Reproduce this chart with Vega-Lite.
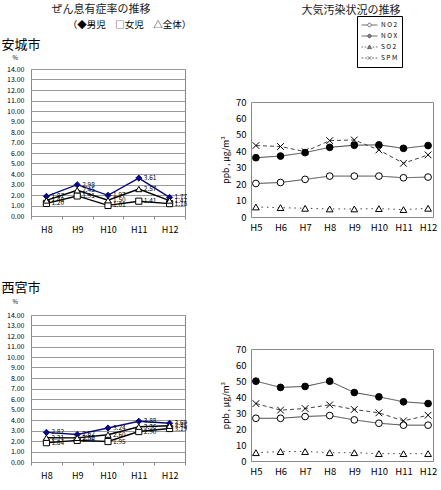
{
  "$schema": "https://vega.github.io/schema/vega-lite/v6.json",
  "padding": {"left": 0, "top": 3, "right": 0, "bottom": 0},
  "background": "white",
  "config": {
    "font": "Noto Sans CJK JP",
    "view": {"stroke": "#8a8a8a"},
    "title": {"fontWeight": "normal", "color": "#222"},
    "axis": {"labelColor": "#000", "titleColor": "#000", "titleFontWeight": "normal"}
  },
  "datasets": {
    "asthma": [
      {"city": "安城市", "year": "H8", "group": "男児", "value": 1.87},
      {"city": "安城市", "year": "H9", "group": "男児", "value": 2.98},
      {"city": "安城市", "year": "H10", "group": "男児", "value": 1.97},
      {"city": "安城市", "year": "H11", "group": "男児", "value": 3.61},
      {"city": "安城市", "year": "H12", "group": "男児", "value": 1.77},
      {"city": "安城市", "year": "H8", "group": "女児", "value": 1.20},
      {"city": "安城市", "year": "H9", "group": "女児", "value": 1.91},
      {"city": "安城市", "year": "H10", "group": "女児", "value": 1.01},
      {"city": "安城市", "year": "H11", "group": "女児", "value": 1.41},
      {"city": "安城市", "year": "H12", "group": "女児", "value": 1.18},
      {"city": "安城市", "year": "H8", "group": "全体", "value": 1.48},
      {"city": "安城市", "year": "H9", "group": "全体", "value": 2.45},
      {"city": "安城市", "year": "H10", "group": "全体", "value": 1.50},
      {"city": "安城市", "year": "H11", "group": "全体", "value": 2.57},
      {"city": "安城市", "year": "H12", "group": "全体", "value": 1.47},
      {"city": "西宮市", "year": "H8", "group": "男児", "value": 2.82},
      {"city": "西宮市", "year": "H9", "group": "男児", "value": 2.62},
      {"city": "西宮市", "year": "H10", "group": "男児", "value": 3.24},
      {"city": "西宮市", "year": "H11", "group": "男児", "value": 3.88},
      {"city": "西宮市", "year": "H12", "group": "男児", "value": 3.69},
      {"city": "西宮市", "year": "H8", "group": "女児", "value": 1.84},
      {"city": "西宮市", "year": "H9", "group": "女児", "value": 2.06},
      {"city": "西宮市", "year": "H10", "group": "女児", "value": 1.95},
      {"city": "西宮市", "year": "H11", "group": "女児", "value": 2.90},
      {"city": "西宮市", "year": "H12", "group": "女児", "value": 3.19},
      {"city": "西宮市", "year": "H8", "group": "全体", "value": 2.31},
      {"city": "西宮市", "year": "H9", "group": "全体", "value": 2.30},
      {"city": "西宮市", "year": "H10", "group": "全体", "value": 2.60},
      {"city": "西宮市", "year": "H11", "group": "全体", "value": 3.36},
      {"city": "西宮市", "year": "H12", "group": "全体", "value": 3.45}
    ],
    "air": [
      {"city": "安城市", "year": "H5", "pollutant": "NO2", "value": 20.4},
      {"city": "安城市", "year": "H6", "pollutant": "NO2", "value": 21.0},
      {"city": "安城市", "year": "H7", "pollutant": "NO2", "value": 22.9},
      {"city": "安城市", "year": "H8", "pollutant": "NO2", "value": 24.9},
      {"city": "安城市", "year": "H9", "pollutant": "NO2", "value": 24.9},
      {"city": "安城市", "year": "H10", "pollutant": "NO2", "value": 24.9},
      {"city": "安城市", "year": "H11", "pollutant": "NO2", "value": 23.9},
      {"city": "安城市", "year": "H12", "pollutant": "NO2", "value": 24.3},
      {"city": "安城市", "year": "H5", "pollutant": "NOX", "value": 36.1},
      {"city": "安城市", "year": "H6", "pollutant": "NOX", "value": 37.1},
      {"city": "安城市", "year": "H7", "pollutant": "NOX", "value": 39.2},
      {"city": "安城市", "year": "H8", "pollutant": "NOX", "value": 42.4},
      {"city": "安城市", "year": "H9", "pollutant": "NOX", "value": 43.7},
      {"city": "安城市", "year": "H10", "pollutant": "NOX", "value": 43.9},
      {"city": "安城市", "year": "H11", "pollutant": "NOX", "value": 41.8},
      {"city": "安城市", "year": "H12", "pollutant": "NOX", "value": 43.5},
      {"city": "安城市", "year": "H5", "pollutant": "SO2", "value": 6.1},
      {"city": "安城市", "year": "H6", "pollutant": "SO2", "value": 5.7},
      {"city": "安城市", "year": "H7", "pollutant": "SO2", "value": 5.3},
      {"city": "安城市", "year": "H8", "pollutant": "SO2", "value": 4.9},
      {"city": "安城市", "year": "H9", "pollutant": "SO2", "value": 4.9},
      {"city": "安城市", "year": "H10", "pollutant": "SO2", "value": 5.1},
      {"city": "安城市", "year": "H11", "pollutant": "SO2", "value": 4.5},
      {"city": "安城市", "year": "H12", "pollutant": "SO2", "value": 5.3},
      {"city": "安城市", "year": "H5", "pollutant": "SPM", "value": 43.5},
      {"city": "安城市", "year": "H6", "pollutant": "SPM", "value": 42.9},
      {"city": "安城市", "year": "H7", "pollutant": "SPM", "value": 39.8},
      {"city": "安城市", "year": "H8", "pollutant": "SPM", "value": 46.5},
      {"city": "安城市", "year": "H9", "pollutant": "SPM", "value": 46.9},
      {"city": "安城市", "year": "H10", "pollutant": "SPM", "value": 40.8},
      {"city": "安城市", "year": "H11", "pollutant": "SPM", "value": 32.7},
      {"city": "安城市", "year": "H12", "pollutant": "SPM", "value": 37.8},
      {"city": "西宮市", "year": "H5", "pollutant": "NO2", "value": 26.7},
      {"city": "西宮市", "year": "H6", "pollutant": "NO2", "value": 26.7},
      {"city": "西宮市", "year": "H7", "pollutant": "NO2", "value": 27.8},
      {"city": "西宮市", "year": "H8", "pollutant": "NO2", "value": 28.4},
      {"city": "西宮市", "year": "H9", "pollutant": "NO2", "value": 25.7},
      {"city": "西宮市", "year": "H10", "pollutant": "NO2", "value": 23.6},
      {"city": "西宮市", "year": "H11", "pollutant": "NO2", "value": 22.4},
      {"city": "西宮市", "year": "H12", "pollutant": "NO2", "value": 22.4},
      {"city": "西宮市", "year": "H5", "pollutant": "NOX", "value": 49.9},
      {"city": "西宮市", "year": "H6", "pollutant": "NOX", "value": 46.0},
      {"city": "西宮市", "year": "H7", "pollutant": "NOX", "value": 46.6},
      {"city": "西宮市", "year": "H8", "pollutant": "NOX", "value": 49.9},
      {"city": "西宮市", "year": "H9", "pollutant": "NOX", "value": 42.8},
      {"city": "西宮市", "year": "H10", "pollutant": "NOX", "value": 40.1},
      {"city": "西宮市", "year": "H11", "pollutant": "NOX", "value": 37.0},
      {"city": "西宮市", "year": "H12", "pollutant": "NOX", "value": 35.9},
      {"city": "西宮市", "year": "H5", "pollutant": "SO2", "value": 5.2},
      {"city": "西宮市", "year": "H6", "pollutant": "SO2", "value": 5.9},
      {"city": "西宮市", "year": "H7", "pollutant": "SO2", "value": 5.9},
      {"city": "西宮市", "year": "H8", "pollutant": "SO2", "value": 5.2},
      {"city": "西宮市", "year": "H9", "pollutant": "SO2", "value": 5.2},
      {"city": "西宮市", "year": "H10", "pollutant": "SO2", "value": 4.6},
      {"city": "西宮市", "year": "H11", "pollutant": "SO2", "value": 4.6},
      {"city": "西宮市", "year": "H12", "pollutant": "SO2", "value": 4.6},
      {"city": "西宮市", "year": "H5", "pollutant": "SPM", "value": 35.9},
      {"city": "西宮市", "year": "H6", "pollutant": "SPM", "value": 31.8},
      {"city": "西宮市", "year": "H7", "pollutant": "SPM", "value": 32.8},
      {"city": "西宮市", "year": "H8", "pollutant": "SPM", "value": 35.1},
      {"city": "西宮市", "year": "H9", "pollutant": "SPM", "value": 32.2},
      {"city": "西宮市", "year": "H10", "pollutant": "SPM", "value": 30.1},
      {"city": "西宮市", "year": "H11", "pollutant": "SPM", "value": 25.1},
      {"city": "西宮市", "year": "H12", "pollutant": "SPM", "value": 28.6}
    ]
  },
  "spacing": 28,
  "resolve": {"scale": {"shape": "independent", "fill": "independent", "stroke": "independent", "strokeDash": "independent"}},
  "hconcat": [
    {
      "spacing": 45,
      "resolve": {"scale": {"shape": "independent", "fill": "independent", "stroke": "independent"}},
      "vconcat": [
        {
          "width": 154,
          "height": 147,
          "title": {"text": "ぜん息有症率の推移", "anchor": "middle", "frame": "group", "fontSize": 11, "dx": -7, "offset": 4},
          "data": {"name": "asthma"},
          "transform": [{"filter": "datum.city === '安城市'"}],
          "layer": [
            {
              "mark": {"type": "line", "strokeWidth": 1.4},
              "encoding": {
                "x": {
                  "field": "year", "type": "ordinal", "sort": ["H8", "H9", "H10", "H11", "H12"],
                  "scale": {"type": "band", "paddingInner": 0, "paddingOuter": 0},
                  "axis": {"title": null, "labelAngle": 0, "labelFontSize": 9, "labelPadding": 6, "domain": false, "tickBand": "extent", "tickSize": 3, "tickColor": "#888"}
                },
                "y": {
                  "field": "value", "type": "quantitative",
                  "scale": {"domain": [0, 14], "nice": false},
                  "axis": {
                    "values": [0, 1, 2, 3, 4, 5, 6, 7, 8, 9, 10, 11, 12, 13, 14],
                    "format": ".2f", "labelFontSize": 7, "labelPadding": 7, "ticks": false, "domain": false,
                    "gridColor": "#9a9a9a", "title": "安城市", "titleAngle": 0, "titleAlign": "left",
                    "titleBaseline": "middle", "titleX": -30, "titleY": -25, "titleFontSize": 13
                  }
                },
                "stroke": {"field": "group", "scale": {"domain": ["全体", "女児", "男児"], "range": ["#000000", "#000000", "#0a0a80"]}, "legend": null}
              }
            },
            {
              "mark": {"type": "point", "filled": true, "strokeWidth": 1, "size": 38, "opacity": 1},
              "encoding": {
                "x": {
                  "field": "year", "type": "ordinal", "sort": ["H8", "H9", "H10", "H11", "H12"],
                  "axis": {
                    "orient": "top", "title": "（◆男児　□女児　△全体）", "labels": false, "ticks": false, "domain": false, "grid": false,
                    "titleX": 98, "titleY": -45, "titleAlign": "center", "titleBaseline": "middle", "titleFontSize": 9.5, "titleAngle": 0
                  }
                },
                "y": {
                  "field": "value", "type": "quantitative",
                  "axis": {
                    "orient": "left", "title": "%", "labels": false, "ticks": false, "domain": false, "grid": false,
                    "titleAngle": 0, "titleAlign": "left", "titleBaseline": "middle", "titleX": -19, "titleY": -12, "titleFontSize": 6
                  }
                },
                "shape": {"field": "group", "scale": {"domain": ["全体", "女児", "男児"], "range": ["triangle-up", "square", "diamond"]}, "legend": null},
                "fill": {"field": "group", "scale": {"domain": ["全体", "女児", "男児"], "range": ["#ffffff", "#ffffff", "#0a0a80"]}, "legend": null},
                "stroke": {"field": "group", "legend": null}
              }
            },
            {
              "mark": {"type": "text", "align": "left", "baseline": "middle", "dx": 5, "fontSize": 6.5, "color": "#000"},
              "encoding": {
                "x": {"field": "year", "type": "ordinal", "sort": ["H8", "H9", "H10", "H11", "H12"], "axis": null},
                "y": {"field": "value", "type": "quantitative", "axis": null},
                "text": {"field": "value", "type": "quantitative", "format": ".2f"}
              }
            }
          ],
          "resolve": {"axis": {"x": "independent", "y": "independent"}}
        },
        {
          "width": 154,
          "height": 147,
          "data": {"name": "asthma"},
          "transform": [{"filter": "datum.city === '西宮市'"}],
          "layer": [
            {
              "mark": {"type": "line", "strokeWidth": 1.4},
              "encoding": {
                "x": {
                  "field": "year", "type": "ordinal", "sort": ["H8", "H9", "H10", "H11", "H12"],
                  "scale": {"type": "band", "paddingInner": 0, "paddingOuter": 0},
                  "axis": {"title": null, "labelAngle": 0, "labelFontSize": 9, "labelPadding": 6, "domain": false, "tickBand": "extent", "tickSize": 3, "tickColor": "#888"}
                },
                "y": {
                  "field": "value", "type": "quantitative",
                  "scale": {"domain": [0, 14], "nice": false},
                  "axis": {
                    "values": [0, 1, 2, 3, 4, 5, 6, 7, 8, 9, 10, 11, 12, 13, 14],
                    "format": ".2f", "labelFontSize": 7, "labelPadding": 7, "ticks": false, "domain": false,
                    "gridColor": "#9a9a9a", "title": "西宮市", "titleAngle": 0, "titleAlign": "left",
                    "titleBaseline": "middle", "titleX": -30, "titleY": -28, "titleFontSize": 13
                  }
                },
                "stroke": {"field": "group", "scale": {"domain": ["全体", "女児", "男児"], "range": ["#000000", "#000000", "#0a0a80"]}, "legend": null}
              }
            },
            {
              "mark": {"type": "point", "filled": true, "strokeWidth": 1, "size": 38, "opacity": 1},
              "encoding": {
                "x": {"field": "year", "type": "ordinal", "sort": ["H8", "H9", "H10", "H11", "H12"], "axis": null},
                "y": {
                  "field": "value", "type": "quantitative",
                  "axis": {
                    "orient": "left", "title": "%", "labels": false, "ticks": false, "domain": false, "grid": false,
                    "titleAngle": 0, "titleAlign": "left", "titleBaseline": "middle", "titleX": -19, "titleY": -14, "titleFontSize": 6
                  }
                },
                "shape": {"field": "group", "scale": {"domain": ["全体", "女児", "男児"], "range": ["triangle-up", "square", "diamond"]}, "legend": null},
                "fill": {"field": "group", "scale": {"domain": ["全体", "女児", "男児"], "range": ["#ffffff", "#ffffff", "#0a0a80"]}, "legend": null},
                "stroke": {"field": "group", "legend": null}
              }
            },
            {
              "mark": {"type": "text", "align": "left", "baseline": "middle", "dx": 5, "fontSize": 6.5, "color": "#000"},
              "encoding": {
                "x": {"field": "year", "type": "ordinal", "sort": ["H8", "H9", "H10", "H11", "H12"], "axis": null},
                "y": {"field": "value", "type": "quantitative", "axis": null},
                "text": {"field": "value", "type": "quantitative", "format": ".2f"}
              }
            }
          ],
          "resolve": {"axis": {"x": "independent", "y": "independent"}}
        }
      ]
    },
    {
      "spacing": 26,
      "resolve": {"scale": {"shape": "independent", "fill": "independent", "strokeDash": "independent"}},
      "vconcat": [
        {
          "width": 182,
          "height": 1,
          "view": {"stroke": null},
          "title": {"text": "大気汚染状況の推移", "anchor": "middle", "fontSize": 11, "dx": 9, "offset": 0},
          "data": {"name": "air"},
          "transform": [{"filter": "datum.value < 0"}],
          "mark": {"type": "point", "filled": true, "stroke": "#000", "strokeWidth": 0.8},
          "encoding": {
            "shape": {
              "field": "pollutant",
              "scale": {
                "domain": ["NO2", "NOX", "SO2", "SPM"],
                "range": [
                  "M-1,0H-0.22M0.22,0H1M-0.22,0A0.22,0.22,0,1,1,0.22,0A0.22,0.22,0,1,1,-0.22,0",
                  "M-1,0H-0.22M0.22,0H1M-0.22,0A0.22,0.22,0,1,1,0.22,0A0.22,0.22,0,1,1,-0.22,0",
                  "M-1,0H-0.8M-0.6,0H-0.4M0.4,0H0.6M0.8,0H1M0,-0.25L0.25,0.2L-0.25,0.2Z",
                  "M-1,0H-0.75M-0.55,0H-0.3M0.3,0H0.55M0.75,0H1M-0.22,-0.22L0.22,0.22M-0.22,0.22L0.22,-0.22"
                ]
              },
              "legend": {
                "title": null, "orient": "none", "legendX": 106, "legendY": -53, "direction": "vertical",
                "strokeColor": "#000", "fillColor": "#fff", "padding": 4, "symbolSize": 256, "clipHeight": 10,
                "labelFontSize": 6.5, "labelOffset": 3, "rowPadding": 1, "symbolStrokeWidth": 0.8,
                "labelExpr": "join(split(datum.label, ''), ' ')"
              }
            },
            "fill": {
              "field": "pollutant",
              "scale": {"domain": ["NO2", "NOX", "SO2", "SPM"], "range": ["#ffffff", "#000000", "#000000", "#ffffff"]},
              "legend": {"title": null, "orient": "none", "legendX": 106, "legendY": -53}
            }
          }
        },
        {
          "spacing": 111,
          "resolve": {"scale": {"shape": "independent", "fill": "independent", "strokeDash": "independent"}},
          "vconcat": [
            {
              "width": 182,
              "height": 115,
              "data": {"name": "air"},
              "transform": [{"filter": "datum.city === '安城市'"}],
              "encoding": {
                "x": {
                  "field": "year", "type": "ordinal", "sort": ["H5", "H6", "H7", "H8", "H9", "H10", "H11", "H12"],
                  "scale": {"type": "point", "padding": 0.2},
                  "axis": {"title": null, "labelAngle": 0, "labelFontSize": 9.5, "labelPadding": 5, "domain": false, "ticks": false, "grid": false}
                },
                "y": {
                  "field": "value", "type": "quantitative",
                  "scale": {"domain": [0, 70], "nice": false},
                  "axis": {"values": [0, 10, 20, 30, 40, 50, 60, 70], "labelFontSize": 9.5, "labelPadding": 5, "ticks": false, "domain": false, "grid": false, "title": "ppb , μg/m³", "titleFontSize": 8.5, "titlePadding": 5}
                }
              },
              "layer": [
                {
                  "mark": {"type": "line", "strokeWidth": 1, "color": "#444"},
                  "encoding": {
                    "detail": {"field": "pollutant"},
                    "strokeDash": {"field": "pollutant", "scale": {"domain": ["NO2", "NOX", "SO2", "SPM"], "range": [[1, 0], [1, 0], [1.5, 4], [4, 3]]}, "legend": null}
                  }
                },
                {
                  "mark": {"type": "point", "filled": true, "stroke": "#000", "strokeWidth": 1, "size": 45, "opacity": 1},
                  "encoding": {
                    "shape": {"field": "pollutant", "scale": {"domain": ["NO2", "NOX", "SO2", "SPM"], "range": ["circle", "circle", "triangle-up", "M-1,-1L1,1M-1,1L1,-1"]}, "legend": null},
                    "fill": {"field": "pollutant", "scale": {"domain": ["NO2", "NOX", "SO2", "SPM"], "range": ["#ffffff", "#000000", "#ffffff", "transparent"]}, "legend": null}
                  }
                }
              ]
            },
            {
              "width": 182,
              "height": 112,
              "data": {"name": "air"},
              "transform": [{"filter": "datum.city === '西宮市'"}],
              "encoding": {
                "x": {
                  "field": "year", "type": "ordinal", "sort": ["H5", "H6", "H7", "H8", "H9", "H10", "H11", "H12"],
                  "scale": {"type": "point", "padding": 0.2},
                  "axis": {"title": null, "labelAngle": 0, "labelFontSize": 9.5, "labelPadding": 5, "domain": false, "ticks": false, "grid": false}
                },
                "y": {
                  "field": "value", "type": "quantitative",
                  "scale": {"domain": [0, 70], "nice": false},
                  "axis": {"values": [0, 10, 20, 30, 40, 50, 60, 70], "labelFontSize": 9.5, "labelPadding": 5, "ticks": false, "domain": false, "grid": false, "title": "ppb , μg/m³", "titleFontSize": 8.5, "titlePadding": 5}
                }
              },
              "layer": [
                {
                  "mark": {"type": "line", "strokeWidth": 1, "color": "#444"},
                  "encoding": {
                    "detail": {"field": "pollutant"},
                    "strokeDash": {"field": "pollutant", "scale": {"domain": ["NO2", "NOX", "SO2", "SPM"], "range": [[1, 0], [1, 0], [1.5, 4], [4, 3]]}, "legend": null}
                  }
                },
                {
                  "mark": {"type": "point", "filled": true, "stroke": "#000", "strokeWidth": 1, "size": 45, "opacity": 1},
                  "encoding": {
                    "shape": {"field": "pollutant", "scale": {"domain": ["NO2", "NOX", "SO2", "SPM"], "range": ["circle", "circle", "triangle-up", "M-1,-1L1,1M-1,1L1,-1"]}, "legend": null},
                    "fill": {"field": "pollutant", "scale": {"domain": ["NO2", "NOX", "SO2", "SPM"], "range": ["#ffffff", "#000000", "#ffffff", "transparent"]}, "legend": null}
                  }
                }
              ]
            }
          ]
        }
      ]
    }
  ]
}
